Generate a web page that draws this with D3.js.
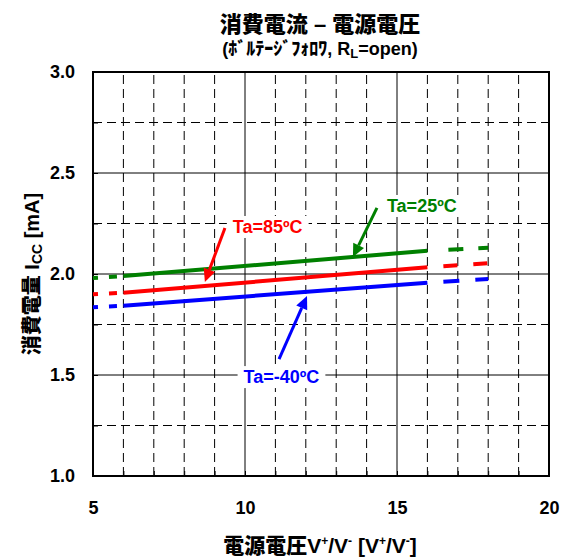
<!DOCTYPE html>
<html><head><meta charset="utf-8">
<script src="https://cdn.jsdelivr.net/npm/d3@7"></script>
<style>
html,body{margin:0;padding:0;background:#fff;}
svg{display:block;}
text{font-family:"Liberation Sans","Noto Sans CJK JP",Arial,sans-serif;font-weight:bold;}
.cjk{font-weight:900;}
</style></head>
<body>
<script>
// ---- data ----
const voltage = [5, 6, 16, 18];           // V+/V- [V]
const ta25  = [1.980, 1.990, 2.115, 2.130]; // Icc [mA]
const ta85  = [1.900, 1.907, 2.033, 2.053];
const taM40 = [1.835, 1.843, 1.957, 1.975];
const seriesNames = ["Ta=25ºC", "Ta=85ºC", "Ta=-40ºC"];
const seriesColors = ["#008000", "#ff0000", "#0000ff"];
const xTickLabels = [5, 10, 15, 20];
const yTickLabels = [1.0, 1.5, 2.0, 2.5, 3.0];
// annotation positions (data units): label anchor, arrow tail, arrow tip
const annLabel = [[14.67, 2.307, "start"], [9.6, 2.203, "start"], [11.2, 1.46, "middle"]];
const annTail  = [[14.34, 2.327], [9.34, 2.228], [11.12, 1.579]];
const annTip   = [[13.55, 2.084], [8.68, 1.960], [12.04, 1.891]];

const W = 570, H = 557;
const m = {left: 93, right: 21, top: 72, bottom: 81};
const svg = d3.select("body").append("svg").attr("width", W).attr("height", H);

const x = d3.scaleLinear().domain([5, 20]).range([m.left, W - m.right]);
const y = d3.scaleLinear().domain([1, 3]).range([H - m.bottom, m.top]);

// grid
const g = svg.append("g");
d3.range(6, 20, 1).forEach(v => {
  const solid = v % 5 === 0;
  g.append("line").attr("x1", x(v)).attr("x2", x(v)).attr("y1", y(1)).attr("y2", y(3))
    .attr("stroke", "#000").attr("stroke-width", 1)
    .attr("stroke-dasharray", solid ? null : "9,5");
});
d3.range(1.25, 3, 0.25).forEach(v => {
  const solid = Math.abs(v * 2 - Math.round(v * 2)) < 1e-9;
  g.append("line").attr("y1", y(v)).attr("y2", y(v)).attr("x1", x(5)).attr("x2", x(20))
    .attr("stroke", "#000").attr("stroke-width", 1)
    .attr("stroke-dasharray", solid ? null : "9,5");
});

// axes: minor inner ticks
const xMinor = svg.append("g").attr("transform", `translate(0,${y(1)})`)
  .call(d3.axisBottom(x).tickValues(d3.range(5, 21, 1)).tickSize(-5).tickFormat(""));
const yMinor = svg.append("g").attr("transform", `translate(${x(5)},0)`)
  .call(d3.axisLeft(y).tickValues(d3.range(1, 3.01, 0.25)).tickSize(-5).tickFormat(""));
[xMinor, yMinor].forEach(a => { a.select(".domain").remove(); a.selectAll("line").attr("stroke", "#000"); });

const xLab = svg.append("g").attr("transform", `translate(0,${y(1)})`)
  .call(d3.axisBottom(x).tickValues(xTickLabels).tickSize(0).tickPadding(25).tickFormat(d3.format("d")));
const yLab = svg.append("g").attr("transform", `translate(${x(5)},0)`)
  .call(d3.axisLeft(y).tickValues(yTickLabels).tickSize(0).tickPadding(18).tickFormat(d3.format(".1f")));
[xLab, yLab].forEach(a => {
  a.select(".domain").remove();
  a.selectAll("text").attr("font-size", 18).attr("fill", "#000")
    .style("font-family", '"Liberation Sans",Arial,sans-serif').style("font-weight", "bold");
});

// frame
svg.append("rect").attr("x", x(5)).attr("y", y(3)).attr("width", x(20) - x(5)).attr("height", y(1) - y(3))
  .attr("fill", "none").attr("stroke", "#000").attr("stroke-width", 2);

// series
const series = [ta25, ta85, taM40];
const line = d3.line().x(d => x(d[0])).y(d => y(d[1]));
const rightDash = ["0,21,15,15,15,100", "0,16,14,16,14,100", "0,16,16,16,14,100"];
series.forEach((vals, i) => {
  const pts = voltage.map((v, j) => [v, vals[j]]);
  svg.append("path").attr("d", line(pts.slice(0, 2))).attr("fill", "none")
    .attr("stroke", seriesColors[i]).attr("stroke-width", 4).attr("stroke-dasharray", "5,11,8,20");
  svg.append("path").attr("d", line(pts.slice(1, 3))).attr("fill", "none")
    .attr("stroke", seriesColors[i]).attr("stroke-width", 4);
  svg.append("path").attr("d", line(pts.slice(2, 4))).attr("fill", "none")
    .attr("stroke", seriesColors[i]).attr("stroke-width", 4).attr("stroke-dasharray", rightDash[i]);
});

// annotations
seriesNames.forEach((name, i) => {
  const col = seriesColors[i];
  const t = svg.append("text").attr("x", x(annLabel[i][0])).attr("y", y(annLabel[i][1]))
    .attr("text-anchor", annLabel[i][2]).attr("font-size", 18).attr("fill", col)
    .style("font-family", '"Liberation Sans",Arial,sans-serif').text(name);
  const bb = t.node().getBBox();
  svg.insert("rect", () => t.node()).attr("x", bb.x - 6).attr("y", bb.y - 1)
    .attr("width", bb.width + 12).attr("height", bb.height + 2).attr("fill", "#fff");
  const x1 = x(annTail[i][0]), y1 = y(annTail[i][1]), x2 = x(annTip[i][0]), y2 = y(annTip[i][1]);
  const ang = Math.atan2(y2 - y1, x2 - x1);
  const hl = 13, hw = 6;
  const bx = x2 - hl * Math.cos(ang), by = y2 - hl * Math.sin(ang);
  svg.append("line").attr("x1", x1).attr("y1", y1).attr("x2", bx).attr("y2", by)
    .attr("stroke", col).attr("stroke-width", 3);
  const px = -Math.sin(ang), py = Math.cos(ang);
  svg.append("path").attr("d", `M${x2},${y2}L${bx + px * hw},${by + py * hw}L${bx - px * hw},${by - py * hw}Z`)
    .attr("fill", col);
});

// titles
svg.append("text").attr("class", "cjk").attr("x", 320).attr("y", 32).attr("text-anchor", "middle").attr("font-size", 22)
  .text("消費電流 – 電源電圧");
const sub = svg.append("text").attr("class", "cjk").attr("x", 320).attr("y", 55).attr("text-anchor", "middle").attr("font-size", 18);
sub.append("tspan").text("(ﾎﾞﾙﾃｰｼﾞﾌｫﾛﾜ, R");
sub.append("tspan").attr("font-size", 13).attr("dy", 3).text("L");
sub.append("tspan").attr("dy", -3).text("=open)");

const xt = svg.append("text").attr("class", "cjk").attr("x", 320).attr("y", 553).attr("text-anchor", "middle").attr("font-size", 21);
xt.append("tspan").text("電源電圧V");
xt.append("tspan").attr("font-size", 12).attr("dy", -8).text("+");
xt.append("tspan").attr("dy", 8).text("/V");
xt.append("tspan").attr("font-size", 12).attr("dy", -8).text("-");
xt.append("tspan").attr("dy", 8).text(" [V");
xt.append("tspan").attr("font-size", 12).attr("dy", -8).text("+");
xt.append("tspan").attr("dy", 8).text("/V");
xt.append("tspan").attr("font-size", 12).attr("dy", -8).text("-");
xt.append("tspan").attr("dy", 8).text("]");

const yt = svg.append("text").attr("class", "cjk").attr("transform", "translate(39,274) rotate(-90)")
  .attr("text-anchor", "middle").attr("font-size", 20);
yt.append("tspan").text("消費電量 I");
yt.append("tspan").attr("font-size", 14).attr("dy", 3).text("CC");
yt.append("tspan").attr("dy", -3).text(" [mA]");
</script>
</body></html>
